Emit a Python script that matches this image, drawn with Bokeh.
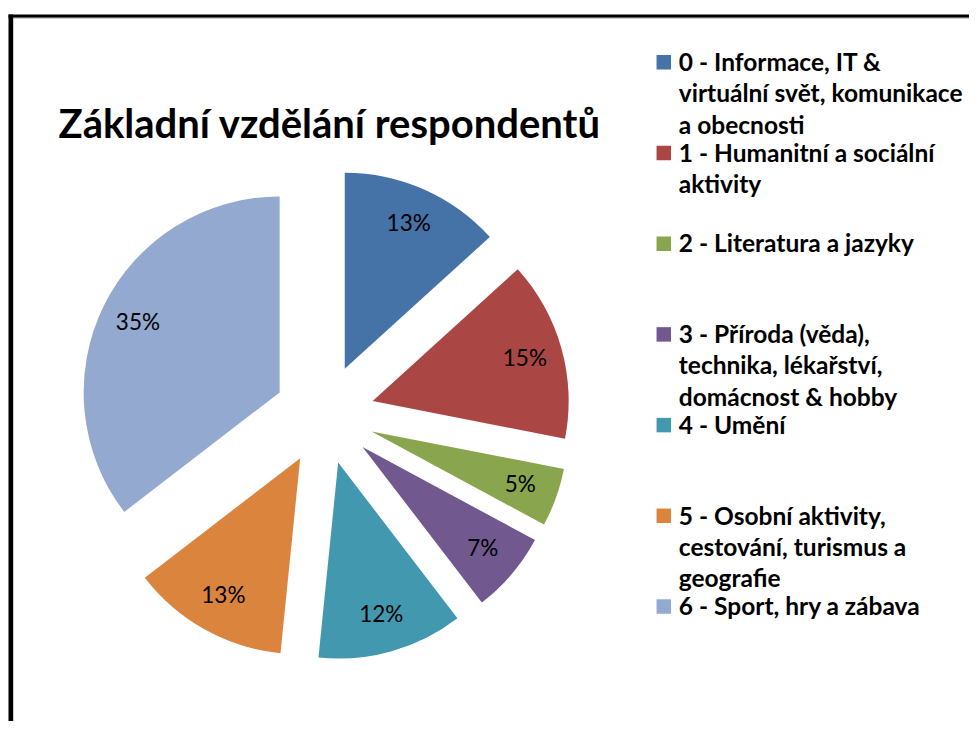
import math
from bokeh.plotting import figure
from bokeh.models import Range1d, ColumnDataSource
from bokeh.core.properties import value
from bokeh.embed import file_html
from bokeh.resources import INLINE

# ---- data ----
title = "Základní vzdělání respondentů"
category_lines = [
    ["0 - Informace, IT &", "virtuální svět, komunikace", "a obecnosti"],
    ["1 - Humanitní a sociální", "aktivity"],
    ["2 - Literatura a jazyky"],
    ["3 - Příroda (věda),", "technika, lékařství,", "domácnost & hobby"],
    ["4 - Umění"],
    ["5 - Osobní aktivity,", "cestování, turismus a", "geografie"],
    ["6 - Sport, hry a zábava"],
]
shares = [13.25, 14.8, 4.8, 6.7, 12.0, 12.95, 35.4]
colors = ["#4572A7", "#AA4643", "#89A54E", "#71588F", "#4198AF", "#DB843D", "#93A9CF"]

# ---- layout ----
W, H = 969, 721
CX, CY = 316, 315       # pie centre
R = 196                 # radius
D = 50                  # explosion distance
LABEL_R = 158

p = figure(width=W, height=H, x_range=Range1d(-8, W - 8), y_range=Range1d(8, H + 8),
           output_backend="svg", toolbar_location=None, min_border=0,
           x_axis_type=None, y_axis_type=None)
p.grid.visible = False
p.outline_line_color = None
p.background_fill_color = "white"
p.border_fill_color = "white"

total = sum(shares)
xs, ys, starts, ends, lx, ly, labels = [], [], [], [], [], [], []
cum = 0.0
for s in shares:
    a0 = cum / total * 360.0
    cum += s
    a1 = cum / total * 360.0
    mid = math.radians((a0 + a1) / 2)
    x = CX + D * math.sin(mid)
    y = CY + D * math.cos(mid)
    xs.append(x)
    ys.append(y)
    starts.append(math.radians(90 - a0))
    ends.append(math.radians(90 - a1))
    lx.append(x + LABEL_R * math.sin(mid))
    ly.append(y + LABEL_R * math.cos(mid) + 1.5)
    labels.append(f"{round(s / total * 100)}%")

src = ColumnDataSource(dict(x=xs, y=ys, start=starts, end=ends, color=colors,
                            lx=lx, ly=ly, label=labels))
p.wedge(x="x", y="y", radius=R, start_angle="start", end_angle="end",
        direction="clock", fill_color="color", line_color=None, source=src)
p.text(x="lx", y="ly", text="label", source=src, text_font=value("Lato"),
       text_font_size="22.5px", text_align="center", text_baseline="middle",
       text_color="black")

# title
p.text(x=[50], y=[607], text=[title], text_font=value("Lato"),
       text_font_style="bold", text_font_size="40px", text_align="left",
       text_baseline="alphabetic", text_color="black")

# legend
LEG_TOP = 729 - 69
LEG_STEP = 90.7
LINE_STEP = 31.3
TEXT_SHIFT = 8
tx, ty, tt = [], [], []
sx, sy = [], []
for i, lines in enumerate(category_lines):
    base = LEG_TOP - LEG_STEP * i
    sx.append(655.3)
    sy.append(base + 7.2)
    for j, line in enumerate(lines):
        tx.append(670.3)
        ty.append(base + TEXT_SHIFT - LINE_STEP * j)
        tt.append(line)
p.rect(x=sx, y=sy, width=14.5, height=14.5, fill_color=colors, line_color=None)
p.text(x=tx, y=ty, text=tt, text_font=value("Lato"), text_font_style="bold",
       text_font_size="24.5px", text_align="left", text_baseline="alphabetic",
       text_color="black")

# frame border (top and left visible)
p.quad(left=[0], right=[W], top=[715], bottom=[711.7], fill_color="black", line_color=None)
p.quad(left=[0], right=[W], top=[711.7], bottom=[710.7], fill_color="#c0c0c0", line_color=None)
p.quad(left=[0], right=[4.7], top=[715], bottom=[0], fill_color="black", line_color=None)

open("out.html", "w").write(file_html(p, INLINE))
